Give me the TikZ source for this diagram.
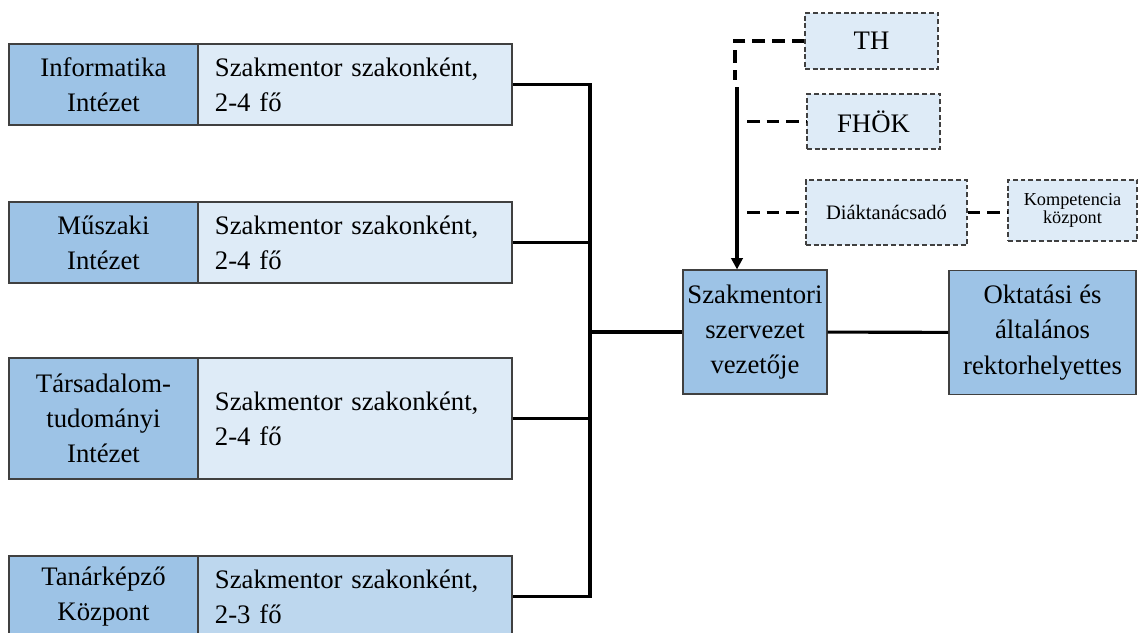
\documentclass[tikz,border=0pt]{standalone}
\usepackage{fontspec}
\setmainfont{Liberation Serif}
\newfontfamily\orgfont{Liberation Serif}
\usetikzlibrary{arrows.meta}
\definecolor{unitblue}{HTML}{9DC3E6}
\definecolor{paleblue}{HTML}{DEEBF7}
\definecolor{midblue}{HTML}{BDD7EE}
\definecolor{edge}{HTML}{404040}

\begin{document}
\begin{tikzpicture}[x=0.025cm,y=-0.025cm,
  unit/.style={draw=edge,fill=unitblue,line width=0.8pt,minimum width=4.725cm,minimum height=2.025cm,inner sep=2pt,align=center,font=\orgfont\fontsize{19}{25}\selectfont},
  mentor/.style={draw=edge,fill=paleblue,line width=0.8pt,text width=7cm,inner xsep=0.425cm,minimum height=2.025cm,align=left,font=\orgfont\fontsize{19}{25}\selectfont},
  head/.style={draw=edge,fill=unitblue,line width=0.8pt,minimum height=3.1cm,inner sep=2pt,align=center,font=\orgfont\fontsize{19}{25}\selectfont},
  aux/.style={draw=edge,fill=paleblue,line width=0.8pt,dash pattern=on 3.5pt off 2pt,inner sep=2pt,align=center},
  wire/.style={line width=2.2pt},
  link/.style={line width=2.2pt,dash pattern=on 9pt off 5pt}]
\useasboundingbox (0,0) rectangle (1138,632);
% units on the left
\node[unit] (u1) at (103.5,84.5) {Informatika\\Intézet};
\node[mentor] (m1) at (355,84.5) {Szakmentor szakonként,\\2-4 fő};
\node[unit] (u2) at (103.5,242.5) {Műszaki\\Intézet};
\node[mentor] (m2) at (355,242.5) {Szakmentor szakonként,\\2-4 fő};
\node[unit,minimum height=3.025cm] (u3) at (103.5,418.5) {Társadalom-\\tudományi\\Intézet};
\node[mentor,minimum height=3.025cm] (m3) at (355,418.5) {Szakmentor szakonként,\\2-4 fő};
\node[unit] (u4) at (103.5,596.5) {Tanárképző\\Központ};
\node[mentor,fill=midblue] (m4) at (355,596.5) {Szakmentor szakonként,\\2-3 fő};
% leaders
\node[head,minimum width=3.6cm] (lead) at (755,332) {Szakmentori\\szervezet\\vezetője};
\node[head,minimum width=4.675cm] (rector) at (1042.5,332.5) {Oktatási és\\általános\\rektorhelyettes};
% dashed partners
\node[aux,minimum width=3.325cm,minimum height=1.4cm,font=\orgfont\fontsize{19}{25}\selectfont] (th) at (871.5,41) {TH};
\node[aux,minimum width=3.325cm,minimum height=1.375cm,font=\orgfont\fontsize{19}{25}\selectfont] (hok) at (873.5,121.5) {FHÖK};
\node[aux,minimum width=4.025cm,minimum height=1.625cm,font=\orgfont\fontsize{14.6}{18}\selectfont] (advice) at (886.5,212.5) {Diáktanácsadó};
\node[aux,minimum width=3.225cm,minimum height=1.525cm,font=\orgfont\fontsize{13}{12.8}\selectfont] (comp) at (1072.5,210.5) {Kompetencia\\központ};
% connectors
\coordinate (bus) at (590,0);
\coordinate (side) at (747,0);
\coordinate (thend) at (735,80);
\coordinate (arrtop) at (737,87);
\draw[wire] (m1.east) -- (m1.east -| bus) -- (m4.east -| bus) -- (m4.east); %bus
\draw[wire] (m2.east) -- (m2.east -| bus);
\draw[wire] (m3.east) -- (m3.east -| bus);
\draw[wire] (lead.west -| bus) -- (lead.west);
\draw[wire] (lead) -- (rector);
\draw[wire,-{Triangle[width=8pt,length=8pt]}] (arrtop) -- (arrtop |- lead.north); %arrow
\draw[link] (th.west) -- (th.west -| thend) -- (thend);
\draw[link] (hok.west -| side) -- (hok.west);
\draw[link] (advice.west -| side) -- (advice.west);
\draw[link] (advice.east) -- (advice.east -| comp.west);
\end{tikzpicture}
\end{document}
